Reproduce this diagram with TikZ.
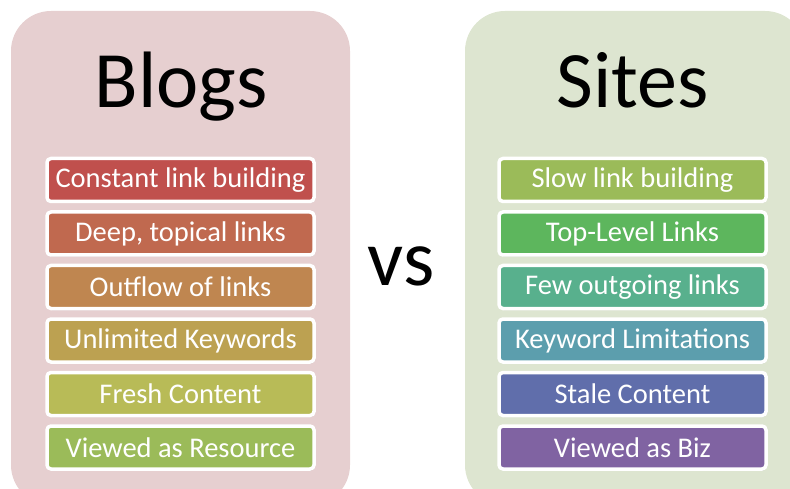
\documentclass[tikz,border=0pt]{standalone}
\usepackage{fontspec}
\setmainfont{Carlito}
\usetikzlibrary{shadows}
\definecolor{leftbg}{HTML}{E6CFD0}
\definecolor{rightbg}{HTML}{DDE5D0}
\definecolor{cA}{HTML}{C0504D}
\definecolor{cB}{HTML}{C0694F}
\definecolor{cC}{HTML}{BF8650}
\definecolor{cD}{HTML}{BCA151}
\definecolor{cE}{HTML}{B8BB57}
\definecolor{cF}{HTML}{9BBB59}
\definecolor{dA}{HTML}{9BBB59}
\definecolor{dB}{HTML}{5DB65D}
\definecolor{dC}{HTML}{58B08D}
\definecolor{dD}{HTML}{5C9EAD}
\definecolor{dE}{HTML}{606EAB}
\definecolor{dF}{HTML}{8063A2}
\tikzset{
  panel/.style={rounded corners=40pt},
  itembox/.style={draw=white, line width=3.5pt, rounded corners=4pt,
    minimum width=267pt, minimum height=43pt, inner sep=0pt,
    text=white, font=\fontsize{28.5}{30}\selectfont,
    drop shadow={shadow xshift=0.8pt, shadow yshift=-1.5pt, opacity=0.35, fill=black!60}},
  title/.style={font=\fontsize{80}{90}\selectfont, text=black, inner sep=0pt, anchor=base}
}
\begin{document}
\begin{tikzpicture}[x=1pt,y=-1pt]
\useasboundingbox (0,0) rectangle (790,489);
\begin{scope}
\clip (0,0) rectangle (790,489);
\fill[leftbg, panel] (11,11) rectangle (350,505);
\fill[rightbg, panel] (465,11) rectangle (805,505);
\end{scope}
\node[title] (blogs) at (181,108) {Blogs};
\node[title] (sites) at (633,108) {Sites};
\node[title] (vs) at (401,285) {vs};
\node[itembox, fill=cA] (l1) at (180.5,180) {Constant link building};
\node[itembox, fill=cB] (l2) at (180.5,233.5) {Deep, topical links};
\node[itembox, fill=cC] (l3) at (180.5,287) {Outflow of links};
\node[itembox, fill=cD] (l4) at (180.5,340.5) {Unlimited Keywords};
\node[itembox, fill=cE] (l5) at (180.5,394) {Fresh Content};
\node[itembox, fill=cF] (l6) at (180.5,447.5) {Viewed as Resource};
\node[itembox, fill=dA] (r1) at (632.5,180) {Slow link building};
\node[itembox, fill=dB] (r2) at (632.5,233.5) {Top-Level Links};
\node[itembox, fill=dC] (r3) at (632.5,287) {Few outgoing links};
\node[itembox, fill=dD] (r4) at (632.5,340.5) {Keyword Limitations};
\node[itembox, fill=dE] (r5) at (632.5,394) {Stale Content};
\node[itembox, fill=dF] (r6) at (632.5,447.5) {Viewed as Biz};
\end{tikzpicture}
\end{document}
